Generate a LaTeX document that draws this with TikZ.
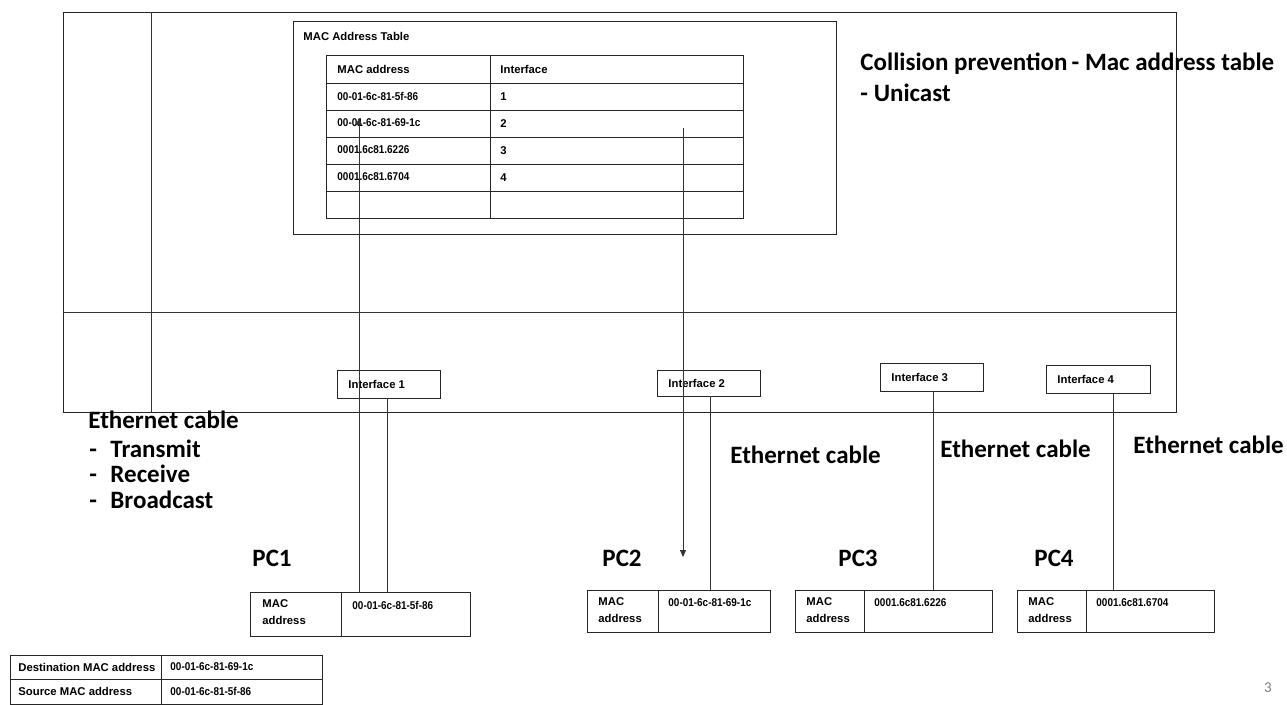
\documentclass[tikz,border=0pt]{standalone}
\usepackage{fontspec}
\setmainfont{Liberation Sans}
\newfontfamily\calfont{Carlito}
\newfontfamily\addrfont[FakeStretch=0.88]{Liberation Sans}
\usetikzlibrary{arrows.meta,fit}
\begin{document}
\begin{tikzpicture}[x=1pt,y=-1pt,line width=0.9pt,
  bx/.style={draw=black!85,inner sep=0pt,fit={#1}},
  sm/.style={font=\fontsize{11.3}{12.5}\selectfont\bfseries,anchor=west,inner sep=0pt,align=left},
  two/.style={font=\fontsize{11.3}{17}\selectfont\bfseries,anchor=north west,inner sep=0pt,align=left},
  ad/.style={font=\addrfont\fontsize{11.3}{12.5}\selectfont\bfseries,anchor=west,inner sep=0pt,align=left},
  big/.style={font=\calfont\bfseries\fontsize{25}{30}\selectfont,anchor=base west,inner sep=0pt},
  wire/.style={draw=black!80,line width=0.8pt},
  arr/.style={wire,-{Triangle[length=7pt,width=6pt]}}]
\useasboundingbox (0,0) rectangle (1287,704);
% switch
\node[bx={(63,12) (1176,412)}] (sw) {};
\draw[wire,line width=0.9pt] (151,12) coordinate (v1) -- (151,412) coordinate (v2);
\draw[wire,line width=0.9pt] (63,312) coordinate (h1) -- (1176,312) coordinate (h2);
% MAC table box
\node[bx={(293,21) (836,234)}] (mt) {};
\node[sm] (mttitle) at (303,36) {MAC Address Table};
\node[bx={(326,55) (743,218)}] (tbl) {};
\foreach \yy in {83,110,137,164,191}{\draw[draw=black!85] (326,\yy) -- (743,\yy);}
\draw[draw=black!85] (490,55) -- (490,218);
\node[sm] (t0a) at (337,69) {MAC address};
\node[sm] (t0b) at (500,69) {Interface};
\node[ad] (t1a) at (337,96) {00-01-6c-81-5f-86};
\node[sm] (t1b) at (500,97) {1};
\node[ad] (t2a) at (337,123) {00-01-6c-81-69-1c};
\node[sm] (t2b) at (500,124) {2};
\node[ad] (t3a) at (337,150) {0001.6c81.6226};
\node[sm] (t3b) at (500,151) {3};
\node[ad] (t4a) at (337,177) {0001.6c81.6704};
\node[sm] (t4b) at (500,178) {4};
% collision text
\node[big] (coll1) at (860,70) {Collision prevention\,- Mac address table};
\node[big] (coll2) at (860,101) {- Unicast};
% interfaces
\node[bx={(337,370) (440,398)}] (if1) {};
\node[sm] at (348,384) {Interface 1};
\node[bx={(657,370) (760,396)}] (if2) {};
\node[sm] at (668,383) {Interface 2};
\node[bx={(880,363) (983,391)}] (if3) {};
\node[sm] at (891,377) {Interface 3};
\node[bx={(1046,365) (1150,393)}] (if4) {};
\node[sm] at (1057,379) {Interface 4};
% PC boxes
\node[bx={(250,592) (470,636)}] (pc1) {};
\draw[draw=black!85] (341,592) -- (341,636);
\node[two] at (262,599) {MAC\\address};
\node[ad] at (352,605) {00-01-6c-81-5f-86};
\node[bx={(587,590) (770,632)}] (pc2) {};
\draw[draw=black!85] (658,590) -- (658,632);
\node[two] at (598,597) {MAC\\address};
\node[ad] at (668,603) {00-01-6c-81-69-1c};
\node[bx={(795,590) (992,632)}] (pc3) {};
\draw[draw=black!85] (864,590) -- (864,632);
\node[two] at (806,597) {MAC\\address};
\node[ad] at (874,603) {0001.6c81.6226};
\node[bx={(1017,590) (1214,632)}] (pc4) {};
\draw[draw=black!85] (1086,590) -- (1086,632);
\node[two] at (1028,597) {MAC\\address};
\node[ad] at (1096,603) {0001.6c81.6704};
% PC labels
\node[big] (l1) at (252,566) {PC1};
\node[big] (l2) at (602,566) {PC2};
\node[big] (l3) at (838,566) {PC3};
\node[big] (l4) at (1034,566) {PC4};
% ethernet labels
\node[big] (e2) at (730,463) {Ethernet cable};
\node[big] (e3) at (940,457) {Ethernet cable};
\node[big] (e4) at (1133,453) {Ethernet cable};
\node[big] (e1) at (88,428) {Ethernet cable};
\node[big] (b1) at (110,457) {Transmit};
\node[big] (b2) at (110,482) {Receive};
\node[big] (b3) at (110,508) {Broadcast};
\node[big] at (89,457) {-};
\node[big] at (89,482) {-};
\node[big] at (89,508) {-};
% wires
\coordinate (up1) at (359,118);
\draw[arr] (pc1.north -| up1) -- (up1);
\draw[wire] (if1.south -| 387,0) -- (pc1.north -| 387,0);
\coordinate (dn1) at (683,128);
\coordinate (dn2) at (683,557);
\draw[arr] (dn1) -- (dn2);
\draw[wire] (if2.south -| 710,0) -- (pc2.north -| 710,0);
\draw[wire] (if3.south -| 933,0) -- (pc3.north -| 933,0);
\draw[wire] (if4.south -| 1113,0) -- (pc4.north -| 1113,0);
% bottom frame table
\node[bx={(10,655) (322,704)}] (fr) {};
\draw[draw=black!85] (10,679) -- (322,679);
\draw[draw=black!85] (161,655) -- (161,704);
\node[sm] at (18,667) {Destination MAC address};
\node[ad] at (170,667) {00-01-6c-81-69-1c};
\node[sm] at (18,691) {Source MAC address};
\node[ad] at (170,691) {00-01-6c-81-5f-86};
% page number
\node[font=\calfont\fontsize{15}{17}\selectfont,text=black!50,inner sep=0pt] (pg) at (1268,688) {3};
\end{tikzpicture}
\end{document}
